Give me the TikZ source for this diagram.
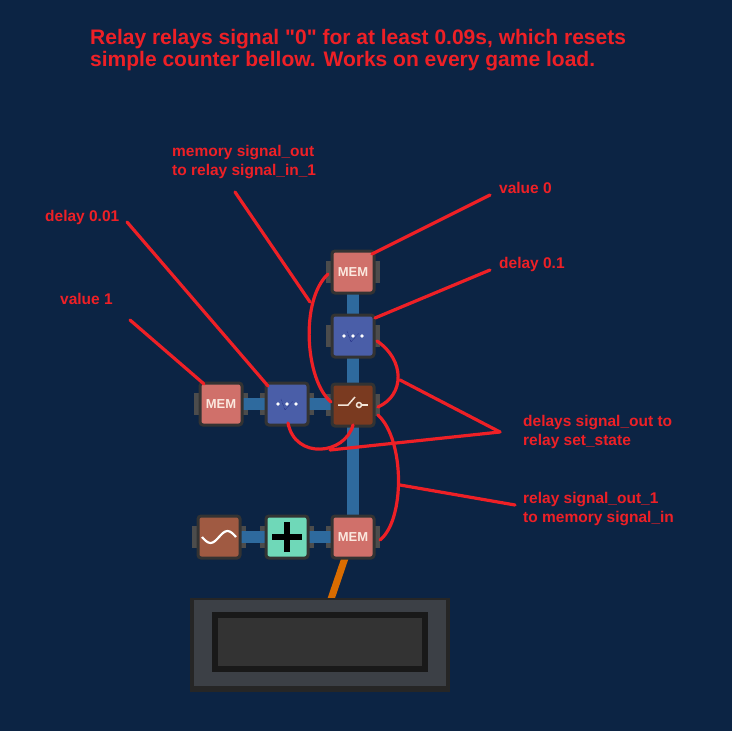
\documentclass[tikz,border=0pt]{standalone}
\usepackage{fontspec}
\setmainfont{Liberation Sans}
\begin{document}
\begin{tikzpicture}[x=1pt,y=-1pt,
  blk/.style={draw=black!80,line width=3pt,rounded corners=3pt,minimum size=42pt,inner sep=0pt},
  mem/.style={blk,fill=memc,text=memt,font=\bfseries\fontsize{13}{13}\selectfont},
  dly/.style={blk,fill=dlyc},
  rly/.style={blk,fill=rlyc},
  lbl/.style={anchor=north west,align=left,text=redc,font=\bfseries\fontsize{15.5}{19}\selectfont,inner sep=0pt},
  red/.style={draw=redc,line width=3.2pt,line cap=round}]
\definecolor{bg}{HTML}{0C2444}
\definecolor{memc}{HTML}{D0706A}
\definecolor{memt}{HTML}{FBE8DF}
\definecolor{dlyc}{HTML}{4A5EA8}
\definecolor{rlyc}{HTML}{7A3A20}
\definecolor{wavc}{HTML}{A05A42}
\definecolor{plsc}{HTML}{6FD8B8}
\definecolor{redc}{HTML}{EE2026}
\definecolor{barc}{HTML}{2E6A9E}
\definecolor{dispc}{HTML}{3C4046}
\fill[bg] (0,0) rectangle (732,731);
\useasboundingbox (0,0) rectangle (732,731);
% bar and wire
\fill[barc] (347,285) rectangle (359,520);
\draw[orange!85!black,line width=7pt] (345,558) -- (330,602);
% display
\fill[black!85] (190,598) rectangle (450,692);
\fill[dispc] (194,600) rectangle (446,686);
\fill[black!90] (212,612) rectangle (428,672);
\fill[black!80] (218,618) rectangle (422,666);
% side tabs
\foreach \x/\y in {353/272,353/336,353/405,221/404,287/404,219/537,287/537,353/537}{
  \fill[black!70] (\x-27,\y-11) rectangle (\x+27,\y+11);}
\fill[barc] (240,398) rectangle (268,410);
\fill[barc] (306,398) rectangle (334,410);
\fill[barc] (240,531) rectangle (268,543);
\fill[barc] (306,531) rectangle (334,543);
% blocks
\node[mem] (m0) at (353,272) {MEM};
\node[dly] (d1) at (353,336) {};
\node[rly] (r) at (353,405) {};
\node[mem] (m1) at (221,404) {MEM};
\node[dly] (d2) at (287,404) {};
\node[blk,fill=wavc] (w) at (219,537) {};
\node[blk,fill=plsc] (p) at (287,537) {};
\node[mem] (m2) at (353,537) {MEM};
\foreach \n in {d1,d2}{
  \foreach \dx in {-9,0,9}{\fill[white] ([xshift=\dx pt]\n.center) circle (1.8pt);}
  \draw[blue!40!black,densely dotted] ([xshift=-6pt,yshift=5pt]\n.center) -- ([xshift=-2pt,yshift=-6pt]\n.center) -- ([xshift=6pt,yshift=3pt]\n.center);}
\draw[white!80!brown,line width=1.5pt] ([xshift=-15pt]r.center) -- ([xshift=-5pt]r.center) -- ([xshift=2pt,yshift=8pt]r.center);
\draw[white!80!brown,line width=1.5pt] ([xshift=6pt]r.center) circle (2.5pt);
\draw[white!80!brown,line width=1.5pt] ([xshift=9pt]r.center) -- ([xshift=15pt]r.center);
\draw[white,line width=2.2pt] ([xshift=-17pt]w.center) sin ([xshift=-8.5pt,yshift=-6pt]w.center) cos (w.center) sin ([xshift=8.5pt,yshift=6pt]w.center) cos ([xshift=17pt]w.center);
\draw[black,line width=5.5pt] ([yshift=-15pt]p.center) -- ([yshift=15pt]p.center);
\draw[black,line width=5.5pt] ([xshift=-15pt]p.center) -- ([xshift=15pt]p.center);
% title
\node[anchor=north west,align=left,text=redc,font=\bfseries\fontsize{21}{22}\selectfont,inner sep=0pt] (t) at (90,29)
 {Relay relays signal \textquotedbl 0\textquotedbl{} for at least 0.09s, which resets\\simple counter bellow. Works on every game load.};
% labels
\node[lbl] (l1) at (172,145) {memory signal\_out\\to relay signal\_in\_1};
\node[lbl] (l2) at (499,182) {value 0};
\node[lbl] (l3) at (45,210) {delay 0.01};
\node[lbl] (l4) at (499,257) {delay 0.1};
\node[lbl] (l5) at (60,293) {value 1};
\node[lbl] (l6) at (523,415) {delays signal\_out to\\relay set\_state};
\node[lbl] (l7) at (523,492) {relay signal\_out\_1\\to memory signal\_in};
\coordinate (c1) at (310,302);
\coordinate (c6) at (500,432);
\coordinate (c6a) at (400,380);
\coordinate (c6b) at (330,450);
\coordinate (c7) at (400,485);
% red annotations
\draw[red] (235,192) -- (c1);
\draw[red] (328,274) .. controls (300,300) and (305,380) .. (331,402);
\draw[red] (372,254) -- (490,195);
\draw[red] (375,318) -- (490,270);
\draw[red] (127,222) -- (268,386);
\draw[red] (130,320) -- (204,384);
\draw[red] (377,341) .. controls (405,360) and (405,395) .. (378,407);
\draw[red] (288,423) .. controls (295,460) and (345,455) .. (353,425);
\draw[red] (c6) -- (c6a);
\draw[red] (c6) -- (c6b);
\draw[red] (378,415) .. controls (405,440) and (405,520) .. (380,540);
\draw[red] (515,505) -- (c7);
\end{tikzpicture}
\end{document}
